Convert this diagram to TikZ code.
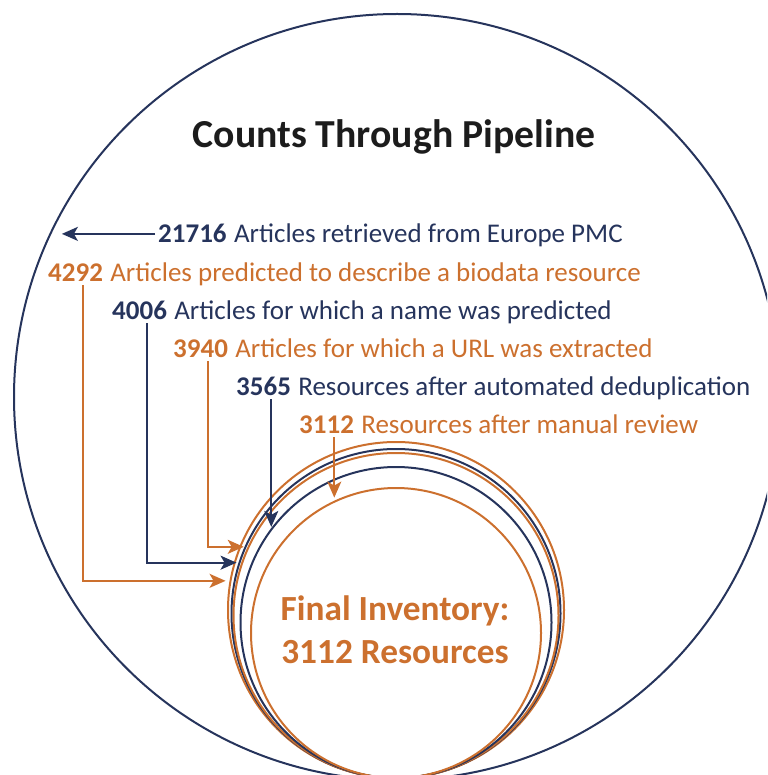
\documentclass[tikz,border=0pt]{standalone}
\usepackage{fontspec}
\setmainfont{Carlito}
\usetikzlibrary{arrows.meta,calc}
\definecolor{navy}{RGB}{38,52,92}
\definecolor{rust}{RGB}{204,112,46}
\definecolor{ink}{RGB}{28,28,28}

\begin{document}
\begin{tikzpicture}[x=1pt,y=-1pt,
  ring/.style={circle,draw,line width=2pt,inner sep=0pt,outer sep=0pt},
  lbl/.style={anchor=base west,inner sep=0pt,font=\fontsize{27}{32}\selectfont},
  num/.style={anchor=base west,inner sep=0pt,font=\fontsize{27}{32}\selectfont\bfseries},
  link/.style={line width=2pt,-{Stealth[length=16pt,width=14pt,inset=4pt]}},
]
\useasboundingbox (0,0) rectangle (767,775);
\clip (0,0) rectangle (767,775);

% outer pool of retrieved articles
\node[ring,draw=navy,minimum size=766pt] (pool) at (397,397) {};

% nested stages, all touching at the bottom
\node[ring,draw=rust,minimum size=336pt] (c1) at (396,610) {};
\node[ring,draw=navy,minimum size=329pt] (c2) at (396,613.5) {};
\node[ring,draw=rust,minimum size=325pt] (c3) at (396,615.5) {};
\node[ring,draw=navy,minimum size=311pt] (c4) at (396,622.5) {};
\node[ring,draw=rust,minimum size=290pt] (c5) at (396,633) {};

% heading
\node[anchor=base,inner sep=0pt,text=ink,font=\fontsize{39.7}{47}\selectfont\bfseries]
  (title) at (394,148) {Counts Through Pipeline};

% stage labels
\node[num,text=navy] (k1) at (158,243) {21716};
\node[lbl,text=navy] (t1) at ([xshift=7pt]k1.base east) {Articles retrieved from Europe PMC};
\node[num,text=rust] (k2) at (48,281) {4292};
\node[lbl,text=rust] (t2) at ([xshift=7pt]k2.base east) {Articles predicted to describe a biodata resource};
\node[num,text=navy] (k3) at (112,319) {4006};
\node[lbl,text=navy] (t3) at ([xshift=7pt]k3.base east) {Articles for which a name was predicted};
\node[num,text=rust] (k4) at (173,357) {3940};
\node[lbl,text=rust] (t4) at ([xshift=7pt]k4.base east) {Articles for which a URL was extracted};
\node[num,text=navy] (k5) at (236,395) {3565};
\node[lbl,text=navy] (t5) at ([xshift=7pt]k5.base east) {Resources after automated deduplication};
\node[num,text=rust] (k6) at (299,433) {3112};
\node[lbl,text=rust] (t6) at ([xshift=7pt]k6.base east) {Resources after manual review};

% final count
\node[anchor=base,inner sep=0pt,text=rust,font=\fontsize{35.3}{40}\selectfont\bfseries]
  (f1) at (395,620) {Final Inventory:};
\node[anchor=base,inner sep=0pt,text=rust,font=\fontsize{35.3}{40}\selectfont\bfseries]
  (f2) at (395,663) {3112 Resources};

% connector start points under the counts
\foreach \k in {2,...,6}{
  \coordinate (s\k) at ($(k\k.south west)!0.64!(k\k.south east)+(0,4)$);
}

% connectors
\draw[link,navy,shorten >=12pt] ([xshift=-3pt]k1.west) -- (pool.155 |- k1.west);
\draw[link,rust,shorten >=5pt] (s2) |- (c1.170.4);
\draw[link,navy,shorten >=3pt] (s3) |- (c2.162.1);
\draw[link,rust,shorten >=5pt] (s4) |- (c3.155.1);
\draw[link,navy,shorten >=2pt] (s5) -- (s5 |- c4.143.5);
\draw[link,rust,shorten >=4pt] (s6) -- (s6 |- c5.115.3);
\end{tikzpicture}
\end{document}
